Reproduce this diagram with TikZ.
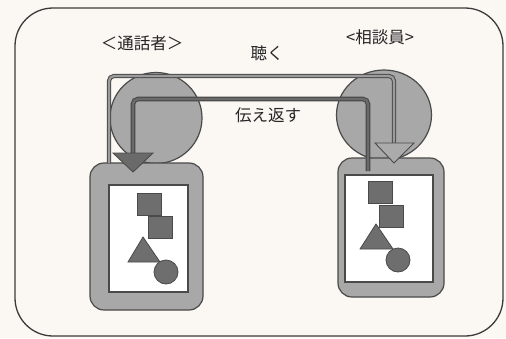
\documentclass[tikz,border=0pt]{standalone}
\usepackage{fontspec}
\usetikzlibrary{shapes.geometric}
\newfontfamily\cjk{Noto Sans CJK JP}
\definecolor{bg}{HTML}{FBF7F3}
\definecolor{shade}{HTML}{A8A8A8}
\definecolor{edge}{HTML}{4A4A4A}
\definecolor{shapefill}{HTML}{6E6E6E}
\definecolor{lightln}{HTML}{9C9C9C}
\definecolor{darkln}{HTML}{6A6A6A}
\tikzset{
  bubble/.style={ellipse, draw=edge, line width=1.2pt, fill=shade, inner sep=0pt},
  pane/.style={rectangle, rounded corners=14pt, draw=edge, line width=1.2pt, fill=shade, inner sep=0pt},
  paper/.style={rectangle, draw=edge, line width=1.2pt, fill=white, inner sep=0pt},
  sq/.style={rectangle, draw=edge, line width=0.8pt, fill=shapefill, inner sep=0pt, minimum width=24pt, minimum height=22pt},
  dot/.style={circle, draw=edge, line width=0.8pt, fill=shapefill, inner sep=0pt, minimum size=24pt},
  lbl/.style={font=\cjk\fontsize{16.5}{19}\selectfont, text=black!85, inner sep=0pt},
}
\begin{document}
\begin{tikzpicture}[x=1pt,y=-1pt]
\fill[bg] (0,0) rectangle (506,338);
\useasboundingbox (0,0) rectangle (506,338);
% outer frame
\draw[edge!80!black, line width=1.3pt, rounded corners=38pt] (15,8) rectangle (503,336);
% labels
\node[lbl] (caller) at (142,43) {＜通話者＞};
\node[lbl] (counsel) at (380,37) {<相談員>};
\node[lbl] (listen) at (267,53) {聴く};
\node[lbl] (reflect) at (268,115) {伝え返す};
% heads
\node[bubble, minimum width=92pt, minimum height=91pt] (headL) at (156,118) {};
\node[bubble, minimum width=95pt, minimum height=90pt] (headR) at (384,115) {};
% bodies
\node[pane, minimum width=113pt, minimum height=147pt] (bodyL) at (146.5,236.5) {};
\node[pane, minimum width=106pt, minimum height=139pt] (bodyR) at (391,227.5) {};
\node[paper, minimum width=79pt, minimum height=107pt] (paperL) at (148.5,238.5) {};
\node[paper, minimum width=88pt, minimum height=107pt] (paperR) at (389,228.5) {};
% shapes left
\node[sq] (sqL1) at (149,204) {};
\node[sq] (sqL2) at (160,227.5) {};
\draw[edge, line width=0.8pt, fill=shapefill] (143,237) -- (160,262) -- (128,262) -- cycle;
\node[dot] (dotL) at (166,272) {};
% shapes right
\node[sq] (sqR1) at (380.5,192.5) {};
\node[sq] (sqR2) at (391,216) {};
\draw[edge, line width=0.8pt, fill=shapefill] (376,224) -- (393,249) -- (360,249) -- cycle;
\node[dot] (dotR) at (398,260) {};
% listen path (light)
\coordinate (lsA) at (109,163);
\coordinate (lsB) at (394,145);
\draw[edge, line width=4.2pt, rounded corners=5pt] (lsA) -- (109,76) -- (394,76) -- (lsB);
\draw[lightln, line width=2.2pt, rounded corners=5pt] (lsA) -- (109,76) -- (394,76) -- (lsB);
\draw[edge, line width=0.9pt, fill=lightln!85!white] (375,143) -- (414,143) -- (394,163) -- cycle;
% reflect path (dark)
\coordinate (rfA) at (368,171);
\coordinate (rfB) at (133,155);
\draw[edge, line width=4.6pt, rounded corners=5pt] (rfA) -- (368,99) -- (133,99) -- (rfB);
\draw[darkln, line width=2.4pt, rounded corners=5pt] (rfA) -- (368,99) -- (133,99) -- (rfB);
\draw[edge, line width=0.9pt, fill=darkln] (113,153) -- (153,153) -- (133,172) -- cycle;
\end{tikzpicture}
\end{document}
